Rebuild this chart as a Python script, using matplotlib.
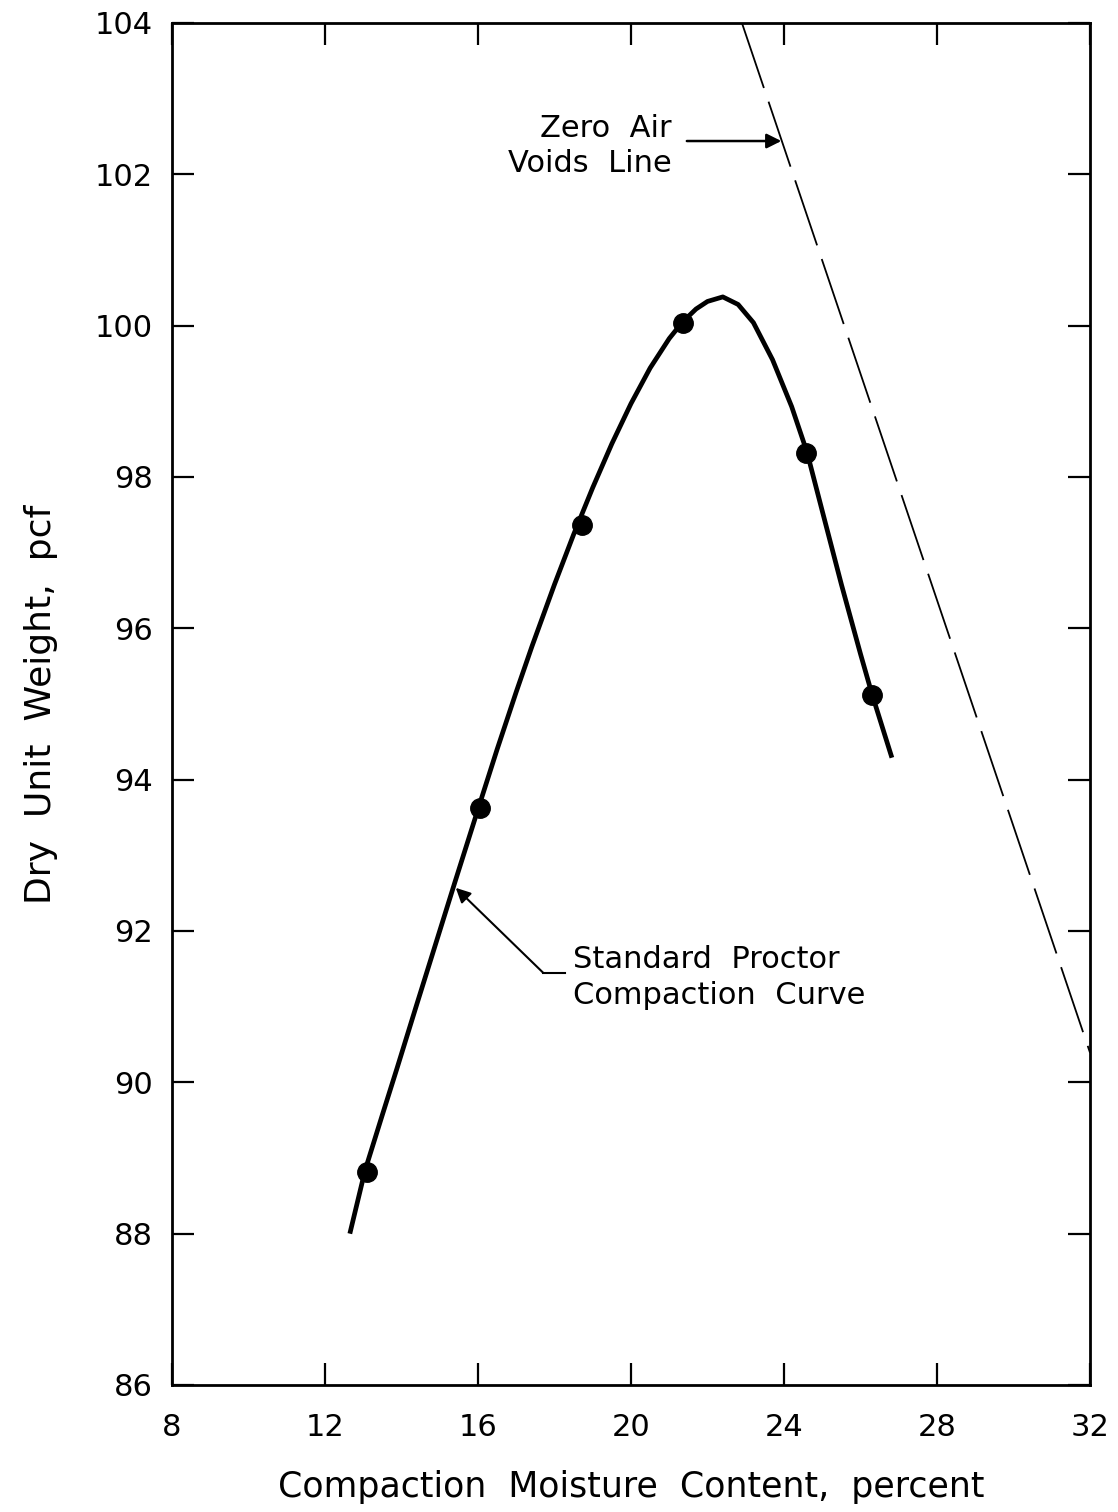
#!/usr/bin/env python3
"""
Standard Proctor compaction curve with zero air voids line
out: out.png
"""
import numpy as np
import matplotlib.pyplot as plt

# measured compaction points (moisture %, dry unit weight pcf)
w_pts = [13.1, 16.05, 18.72, 21.35, 24.58, 26.3]
gd_pts = [88.82, 93.62, 97.36, 100.03, 98.32, 95.12]

# hand-drawn compaction curve
w_curve = [12.65, 13.05, 13.5, 13.88, 14.4, 14.82, 15.4, 16.02, 16.5, 17.0,
           17.41, 18.0, 18.5, 19.0, 19.5, 20.0, 20.5, 21.0, 21.35, 21.7,
           22.0, 22.4, 22.8, 23.2, 23.7, 24.2, 24.6, 25.0, 25.5, 26.0,
           26.3, 26.82]
gd_curve = [88.0, 88.84, 89.57, 90.18, 91.03, 91.71, 92.65, 93.64, 94.40, 95.16,
            95.76, 96.58, 97.24, 97.86, 98.44, 98.97, 99.44, 99.83, 100.05, 100.22,
            100.32, 100.38, 100.28, 100.04, 99.55, 98.93, 98.33, 97.55, 96.58, 95.66,
            95.13, 94.29]

# zero air voids line
w_zav = [22.9, 32.0]
gd_zav = [104.0, 90.39]

xticks = [8, 12, 16, 20, 24, 28, 32]
yticks = [86, 88, 90, 92, 94, 96, 98, 100, 102, 104]

plt.rcParams['font.family'] = ['DejaVu Sans']

fig = plt.figure(figsize=(11.18, 15.12), dpi=100)
ax = fig.add_axes([0.1538, 0.084, 0.8212, 0.9008])

ax.plot(w_curve, gd_curve, color='black', lw=3.4, solid_capstyle='butt',
        solid_joinstyle='round', zorder=3)
ax.plot(w_pts, gd_pts, 'o', color='black', ms=14, zorder=4)
ax.plot(w_zav, gd_zav, color='black', lw=1.3, dashes=(38, 8), zorder=2)

ax.set_xlim(8, 32)
ax.set_ylim(86, 104)
ax.set_xticks(xticks)
ax.set_yticks(yticks)
ax.set_xticklabels([str(v) for v in xticks])
ax.set_yticklabels([str(v) for v in yticks])

ax.tick_params(direction='in', length=16, width=1.6, labelsize=22,
               top=True, right=True, color='black')
ax.tick_params(axis='x', pad=20)
ax.tick_params(axis='y', pad=14)
for s in ax.spines.values():
  s.set_linewidth(2.0)

ax.set_xlabel("Compaction  Moisture  Content,  percent", fontsize=25, labelpad=20)
ax.set_ylabel("Dry  Unit  Weight,  pcf", fontsize=26, labelpad=26)

# annotations
ax.text(21.07, 102.37, "Zero  Air\nVoids  Line", ha='right', va='center',
        fontsize=22, linespacing=1.25)
ax.annotate("", xy=(23.93, 102.44), xytext=(21.46, 102.44),
            arrowprops=dict(arrowstyle='-|>', color='black', lw=1.8,
                            mutation_scale=22, shrinkA=0, shrinkB=0))

ax.plot([17.70, 18.27], [91.45, 91.45], color='black', lw=1.5)
ax.annotate("", xy=(15.42, 92.57), xytext=(17.70, 91.45),
            arrowprops=dict(arrowstyle='-|>', color='black', lw=1.5,
                            mutation_scale=22, shrinkA=0, shrinkB=0))
ax.text(18.48, 91.38, "Standard  Proctor\nCompaction  Curve", ha='left', va='center',
        fontsize=22, linespacing=1.3)

fig.savefig("out.png", dpi=100)
